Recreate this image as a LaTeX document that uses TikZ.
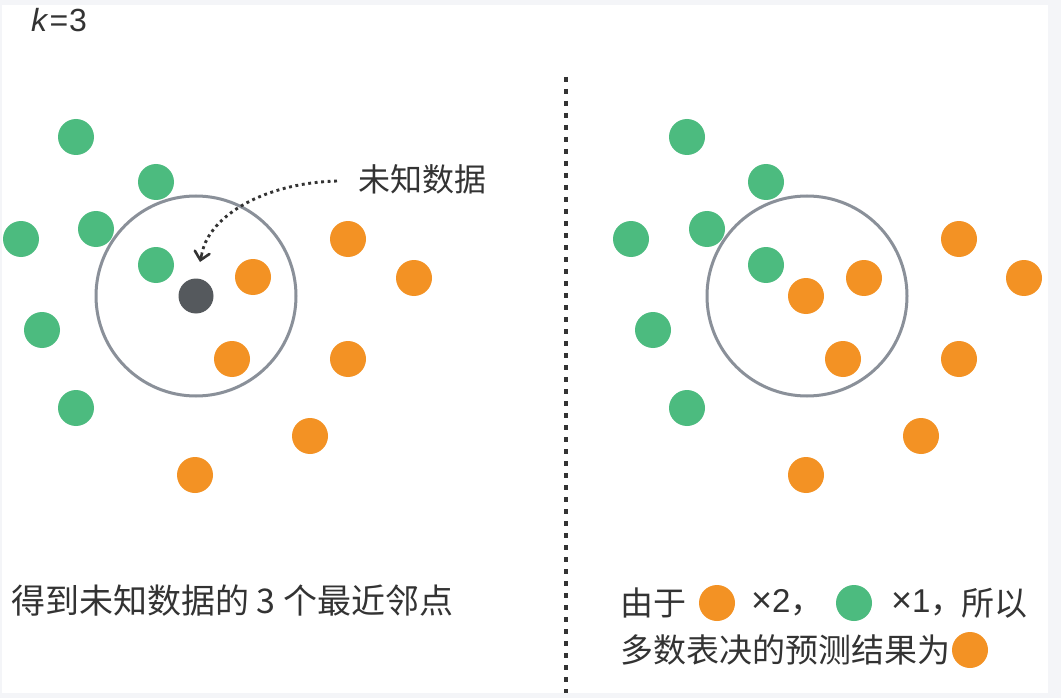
\documentclass[tikz,border=0pt]{standalone}
\usepackage{fontspec}
\setmainfont{Liberation Sans}
\newfontfamily\cjk{Noto Sans CJK SC}
\usetikzlibrary{arrows.meta,calc}
\definecolor{grn}{HTML}{4CBB7F}
\definecolor{org}{HTML}{F39224}
\definecolor{unk}{HTML}{55595D}
\definecolor{ring}{HTML}{8A9099}
\definecolor{txtc}{HTML}{333333}
\definecolor{bgc}{HTML}{F4F5F8}
\begin{document}
\begin{tikzpicture}[x=1pt,y=-1pt,
  dot/.style={circle,inner sep=0pt,minimum size=36pt},
  gdot/.style={dot,fill=grn},
  odot/.style={dot,fill=org},
  udot/.style={dot,fill=unk,minimum size=35pt},
  ringc/.style={draw=ring,line width=3pt},
  txt/.style={font=\cjk\fontsize{32}{38}\selectfont,text=txtc,inner sep=0pt},
  txtr/.style={txt,font=\cjk\fontsize{33}{38}\selectfont},
  sep/.style={draw=txtc,line width=3.2pt,dash pattern=on 5pt off 7pt},
  hint/.style={draw=txtc,line width=2.9pt,dash pattern=on 2.9pt off 3.6pt},
  hinttip/.style={draw=txtc,line width=2.6pt,solid,-{Straight Barb[length=8pt,width=15pt,line cap=round]}}]
\useasboundingbox (0,0) rectangle (1061,698);
\fill[bgc] (0,0) rectangle (1061,698);
\fill[white] (2,5) rectangle (1048,693);

% k=3
\node[anchor=west,font=\fontsize{32}{34}\selectfont,text=txtc,inner sep=0pt] (k) at (31,20) {\textit{k}\kern1pt=\kern1pt3};

% left panel
\node[ringc,circle,minimum size=200pt,inner sep=0pt] (ringL) at (196,296) {};
\foreach \n/\x/\y in {1/76/137,2/156/182,3/96/229,4/21/239,5/156/265,6/42/330,7/76/408}
  \node[gdot] (lg\n) at (\x,\y) {};
\foreach \n/\x/\y in {1/348/239,2/414/278,3/253/277,4/232/359,5/348/359,6/310/436,7/195/475}
  \node[odot] (lo\n) at (\x,\y) {};
\node[udot] (u) at (196,296) {};

\node[txt,anchor=west] (lbl) at (358,179) {未知数据};
\coordinate (astart) at (337,181);
\coordinate (aend) at (200,262);
\coordinate (apre) at (202,253);
\draw[hint] (astart) .. controls (265,183) and (210,215) .. (apre);
\draw[hinttip] (apre) -- (aend);

\node[txt,font=\cjk\fontsize{34}{40}\selectfont,anchor=west] (capL) at (11,601) {得到未知数据的 3 个最近邻点};

% separator
\coordinate (vt) at (566,77);
\coordinate (vb) at (566,693);
\draw[sep] (vt) -- (vb);

% right panel
\node[ringc,circle,minimum size=200pt,inner sep=0pt] (ringR) at (807,296) {};
\foreach \n/\x/\y in {1/687/137,2/766/182,3/707/229,4/631/239,5/766/265,6/653/330,7/687/408}
  \node[gdot] (rg\n) at (\x,\y) {};
\foreach \n/\x/\y in {1/959/239,2/1024/278,3/864/278,4/843/359,5/959/359,6/921/436,7/806/475,8/806/296}
  \node[odot] (ro\n) at (\x,\y) {};

\node[txtr,anchor=west] (r1a) at (620,603) {由于};
\node[odot] (r1o) at (717,603) {};
\node[txtr,anchor=west] (r1b) at (751,603) {{\rmfamily\fontsize{36}{38}\selectfont ×}{\rmfamily 2}，};
\node[gdot] (r1g) at (854,603) {};
\node[txtr,anchor=west] (r1c) at (891,603) {{\rmfamily\fontsize{36}{38}\selectfont ×}{\rmfamily 1}，};
\node[txtr,anchor=west] (r1d) at (961,603) {所以};
\node[txtr,anchor=west] (r2a) at (620,650) {多数表决的预测结果为};
\node[odot] (r2o) at (970,650) {};
\end{tikzpicture}
\end{document}
